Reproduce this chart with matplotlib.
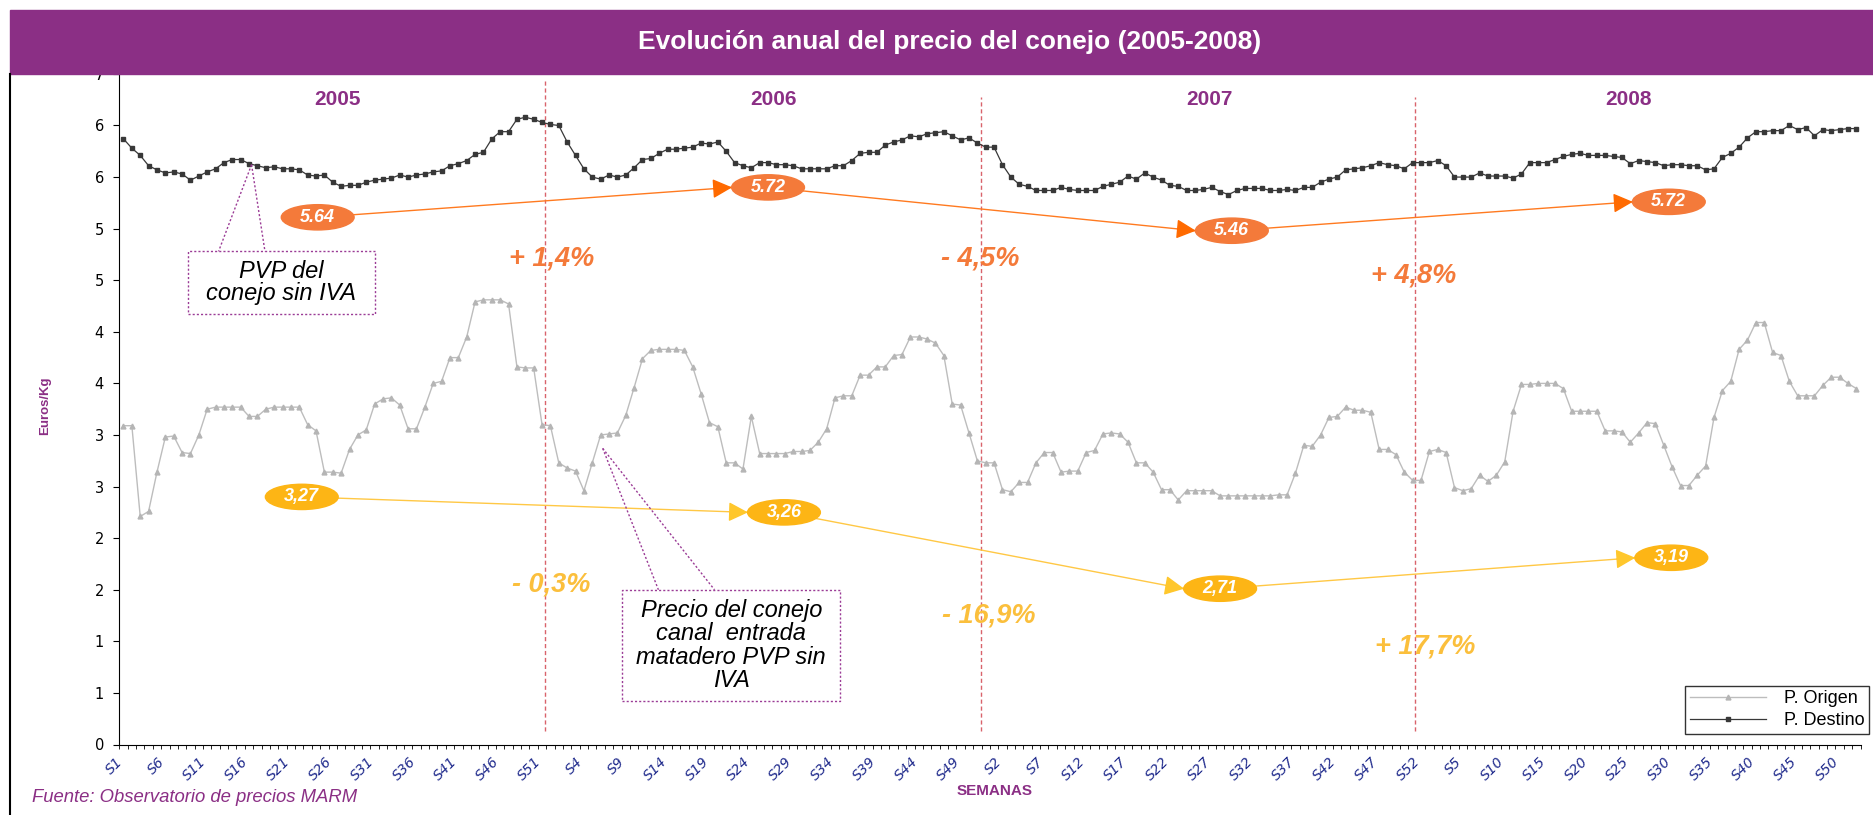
import numpy as np
import matplotlib.pyplot as plt
import matplotlib.transforms as mtransforms
from matplotlib.patches import Ellipse, Rectangle
from matplotlib.lines import Line2D

plt.rcParams['font.family'] = ['Liberation Sans', 'DejaVu Sans']

years = ['2005', '2006', '2007', '2008']
weeks_per_year = [52, 52, 52, 52]

# P. Destino (PVP sin IVA), euros/kg, semana a semana
p_destino = [
    5.87, 5.78, 5.71, 5.61, 5.57, 5.54, 5.55, 5.53, 5.47, 5.51,
    5.55, 5.58, 5.64, 5.67, 5.67, 5.63, 5.61, 5.59, 5.60, 5.58,
    5.58, 5.57, 5.52, 5.51, 5.52, 5.45, 5.41, 5.42, 5.42, 5.45,
    5.47, 5.48, 5.49, 5.52, 5.50, 5.52, 5.53, 5.55, 5.56, 5.61,
    5.63, 5.66, 5.72, 5.74, 5.87, 5.94, 5.94, 6.06, 6.08, 6.06,
    6.03, 6.01,
    6.00, 5.84, 5.71, 5.58, 5.50, 5.48, 5.52, 5.50, 5.52, 5.59,
    5.67, 5.68, 5.73, 5.77, 5.77, 5.78, 5.79, 5.83, 5.82, 5.84,
    5.75, 5.64, 5.61, 5.59, 5.64, 5.64, 5.62, 5.62, 5.61, 5.58,
    5.58, 5.58, 5.58, 5.61, 5.61, 5.66, 5.73, 5.74, 5.74, 5.81,
    5.84, 5.86, 5.90, 5.89, 5.92, 5.93, 5.94, 5.90, 5.86, 5.88,
    5.83, 5.79,
    5.79, 5.62, 5.50, 5.43, 5.41, 5.37, 5.37, 5.37, 5.40, 5.38,
    5.37, 5.37, 5.37, 5.41, 5.43, 5.45, 5.51, 5.48, 5.54, 5.50,
    5.47, 5.42, 5.41, 5.37, 5.37, 5.38, 5.40, 5.36, 5.33, 5.37,
    5.39, 5.39, 5.39, 5.37, 5.37, 5.38, 5.37, 5.40, 5.40, 5.45,
    5.48, 5.50, 5.57, 5.58, 5.59, 5.61, 5.64, 5.62, 5.61, 5.58,
    5.64, 5.64,
    5.64, 5.66, 5.61, 5.50, 5.50, 5.50, 5.54, 5.51, 5.51, 5.51,
    5.49, 5.53, 5.64, 5.64, 5.64, 5.67, 5.70, 5.72, 5.73, 5.71,
    5.71, 5.71, 5.70, 5.69, 5.63, 5.66, 5.65, 5.64, 5.61, 5.62,
    5.62, 5.61, 5.61, 5.57, 5.58, 5.69, 5.73, 5.79, 5.88, 5.94,
    5.94, 5.95, 5.95, 6.00, 5.96, 5.98, 5.90, 5.96, 5.95, 5.96,
    5.97, 5.97,
]

# P. Origen (canal entrada matadero), euros/kg
p_origen = [
    3.09, 3.09, 2.21, 2.26, 2.64, 2.98, 2.99, 2.83, 2.82, 3.00,
    3.25, 3.27, 3.27, 3.27, 3.27, 3.18, 3.18, 3.25, 3.27, 3.27,
    3.27, 3.27, 3.10, 3.04, 2.64, 2.64, 2.63, 2.86, 3.00, 3.05,
    3.30, 3.35, 3.36, 3.29, 3.06, 3.06, 3.27, 3.50, 3.52, 3.75,
    3.75, 3.95, 4.29, 4.31, 4.31, 4.31, 4.27, 3.66, 3.65, 3.65,
    3.10, 3.09,
    2.73, 2.68, 2.65, 2.46, 2.73, 3.00, 3.01, 3.02, 3.19, 3.46,
    3.74, 3.82, 3.83, 3.83, 3.83, 3.82, 3.66, 3.40, 3.12, 3.08,
    2.73, 2.73, 2.67, 3.18, 2.82, 2.82, 2.82, 2.82, 2.84, 2.84,
    2.85, 2.93, 3.06, 3.36, 3.38, 3.38, 3.58, 3.58, 3.66, 3.66,
    3.77, 3.78, 3.95, 3.95, 3.93, 3.89, 3.77, 3.30, 3.29, 3.02,
    2.75, 2.73,
    2.73, 2.47, 2.45, 2.54, 2.54, 2.73, 2.83, 2.83, 2.64, 2.65,
    2.65, 2.83, 2.85, 3.01, 3.02, 3.01, 2.93, 2.73, 2.73, 2.64,
    2.47, 2.47, 2.37, 2.46, 2.46, 2.46, 2.46, 2.41, 2.41, 2.41,
    2.41, 2.41, 2.41, 2.41, 2.42, 2.42, 2.63, 2.90, 2.89, 3.00,
    3.17, 3.18, 3.27, 3.24, 3.24, 3.22, 2.86, 2.86, 2.81, 2.64,
    2.56, 2.56,
    2.84, 2.86, 2.83, 2.49, 2.46, 2.48, 2.61, 2.55, 2.61, 2.74,
    3.23, 3.49, 3.49, 3.50, 3.50, 3.50, 3.45, 3.23, 3.23, 3.23,
    3.23, 3.04, 3.04, 3.03, 2.93, 3.02, 3.12, 3.11, 2.90, 2.69,
    2.51, 2.51, 2.61, 2.70, 3.17, 3.43, 3.52, 3.83, 3.92, 4.09,
    4.09, 3.80, 3.77, 3.52, 3.38, 3.38, 3.38, 3.48, 3.56, 3.56,
    3.50, 3.45,
]

avg_destino = ['5.64', '5.72', '5.46', '5.72']
avg_origen = ['3,27', '3,26', '2,71', '3,19']
var_destino = ['+ 1,4%', '- 4,5%', '+ 4,8%']
var_origen = ['- 0,3%', '- 16,9%', '+ 17,7%']

week_labels = []
for n in weeks_per_year:
    week_labels += ['S%d' % (k + 1) for k in range(n)]
x = np.arange(len(p_destino))

PURPLE = '#8B2F85'
ORANGE = '#F47A3A'
ORANGE_LINE = '#FF7A20'
YELLOW = '#FDB515'
YELLOW_LINE = '#FFC845'

W, H = 1873, 815
fig = plt.figure(figsize=(W / 100, H / 100), dpi=100)
ax = fig.add_axes([119.3 / W, 1 - 744.5 / H, (1860.5 - 119.3) / W, (744.5 - 73.9) / H])

ax.plot(x, p_origen, color='#BDBDBD', lw=1, marker='^', ms=3.5, mec='#B5B5B5',
        mfc='#B5B5B5', label='P. Origen', zorder=3)
ax.plot(x, p_destino, color='#383838', lw=0.9, marker='s', ms=2.2, mec='#383838',
        mfc='#383838', label='P. Destino', zorder=3)

ax.set_xlim(-0.5, len(x) - 0.5)
ax.set_ylim(0, 6.5)
ax.spines['top'].set_visible(False)
ax.spines['right'].set_visible(False)

yt = np.arange(0, 6.51, 0.5)
ax.set_yticks(yt)
ax.set_yticklabels(['%d' % int(v + 0.5) for v in yt], family='DejaVu Sans', fontsize=10.5)
ax.tick_params(axis='y', length=4, pad=7)

# marcas entre categorías; etiquetas de semana cada 5
ax.set_xticks([])
ax.set_xticks(np.arange(-0.5, len(x), 1), minor=True)
ax.tick_params(axis='x', which='minor', length=3)
lab_tr = ax.get_xaxis_transform() + mtransforms.ScaledTranslation(-0.08, -0.10, fig.dpi_scale_trans)
for i in x[::5]:
    ax.text(i, 0, week_labels[i], transform=lab_tr, rotation=45, ha='right', va='top',
            rotation_mode='anchor', color='#1F2A8C', style='italic',
            family='DejaVu Sans', fontsize=10)

# separadores de año
for sx, top in zip([50.4, 102.4, 154.3], [6.44, 6.28, 6.28]):
    ax.plot([sx, sx], [0.13, top], color='#D9636B', lw=1, ls=(0, (3, 2)), zorder=2)

for i, yr in enumerate(years):
    ax.text([25.6, 77.6, 129.7, 179.8][i], 6.25, yr, color=PURPLE, fontsize=15,
            fontweight='bold', ha='center', va='center')

# medias anuales y variaciones
def badges(centers, labels, fill, line_col, arrow_col):
    for k in range(len(centers) - 1):
        (x0, y0), (x1, y1) = centers[k], centers[k + 1]
        ax.plot([x0, x1 - 4.35], [y0, y1], color=line_col, lw=1, zorder=4)
        ax.annotate('', xy=(x1 - 4.3, y1), xytext=(x1 - 6.5, y1 + (y0 - y1) * 2.2 / (x1 - x0)),
                    arrowprops=dict(arrowstyle='-|>,head_length=0.6,head_width=0.3',
                                    color=arrow_col, lw=1, mutation_scale=20,
                                    shrinkA=0, shrinkB=0), zorder=5)
    for (cx, cy), lab in zip(centers, labels):
        ax.add_patch(Ellipse((cx, cy), 8.7, 0.245, color=fill, zorder=6))
        ax.text(cx, cy, lab, color='white', fontsize=13, fontweight='bold',
                style='italic', ha='center', va='center', zorder=7)

badges([(23.2, 5.11), (77.0, 5.40), (132.4, 4.98), (184.6, 5.26)],
       avg_destino, ORANGE, ORANGE_LINE, '#FF6A00')
badges([(21.3, 2.40), (78.9, 2.25), (131.0, 1.51), (184.9, 1.81)],
       avg_origen, YELLOW, YELLOW_LINE, '#FFC72C')

for (px, py), lab in zip([(51.1, 4.71), (102.3, 4.71), (154.1, 4.55)], var_destino):
    ax.text(px, py, lab, color=ORANGE, fontsize=19.5, fontweight='bold',
            style='italic', ha='center', va='center')
for (px, py), lab in zip([(51.1, 1.55), (103.4, 1.25), (155.5, 0.95)], var_origen):
    ax.text(px, py, lab, color='#FBBF3C', fontsize=19.5, fontweight='bold',
            style='italic', ha='center', va='center')

# llamadas
def callout(x0, y0, x1, y1, tip, bases, txt, ls):
    ax.add_patch(Rectangle((x0, y0), x1 - x0, y1 - y0, fill=False, ec='#9B3C96',
                           lw=1, ls=(0, (1.5, 1.5)), zorder=4))
    for bx in bases:
        ax.plot([tip[0], bx], [tip[1], y1], color='#9B3C96', lw=1,
                ls=(0, (1.5, 1.5)), zorder=4)
    ax.text((x0 + x1) / 2, (y0 + y1) / 2, txt, fontsize=17, style='italic',
            ha='center', va='center', linespacing=ls, zorder=5)

callout(7.65, 4.17, 30.05, 4.78, (15.3, 5.62), [11.36, 16.9],
        'PVP del\nconejo sin IVA', 0.95)
callout(59.6, 0.42, 85.6, 1.50, (57.25, 2.87), [63.9, 70.6],
        'Precio del conejo\ncanal  entrada\nmatadero PVP sin\nIVA', 1.02)

leg = ax.legend(loc='lower right', bbox_to_anchor=(1869 / W, 1 - 734 / H),
                bbox_transform=fig.transFigure, fontsize=13, frameon=True,
                fancybox=False, edgecolor='black', handlelength=4.2,
                borderaxespad=0, borderpad=0.25, labelspacing=0.3,
                handletextpad=1.0)
leg.get_frame().set_linewidth(1)

# cabecera y textos de la lámina
fig.add_artist(Rectangle((10 / W, 1 - 74 / H), 1 - 10 / W, 64 / H,
                         transform=fig.transFigure, color=PURPLE, zorder=10))
fig.text(950 / W, 1 - 42 / H, 'Evolución anual del precio del conejo (2005-2008)',
         color='white', fontsize=19, fontweight='bold', ha='center', va='center',
         family=['Liberation Sans Narrow', 'Liberation Sans', 'DejaVu Sans'], zorder=11)
fig.add_artist(Line2D([10 / W, 10 / W], [0, 1 - 74 / H], transform=fig.transFigure,
                      color='black', lw=1.5, zorder=10))
fig.text(45 / W, 1 - 406 / H, 'Euros/Kg', rotation=90, color=PURPLE, fontsize=9.5,
         fontweight='bold', ha='center', va='center')
fig.text(995 / W, 1 - 791 / H, 'SEMANAS', color=PURPLE, fontsize=11,
         fontweight='bold', ha='center', va='center')
fig.text(32 / W, 1 - 798 / H, 'Fuente: Observatorio de precios MARM', color=PURPLE,
         fontsize=13.3, style='italic', ha='left', va='center')

fig.savefig('out.png', dpi=100)
